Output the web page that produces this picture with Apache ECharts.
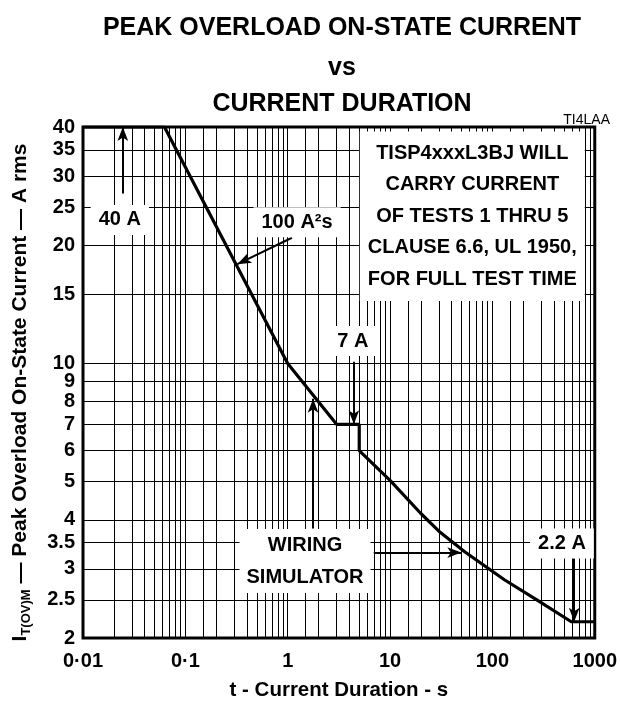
<!DOCTYPE html>
<html><head><meta charset="utf-8">
<script src="https://cdn.jsdelivr.net/npm/echarts@6/dist/echarts.min.js"></script>
<style>html,body{margin:0;padding:0;background:#fff}#c{width:620px;height:707px}</style>
</head><body><div id="c"></div>
<script>
// ---- data ----
const durations = [0.01, 0.0625, 1, 3, 5, 5, 10, 20, 30, 54, 132, 279, 590, 1000];
const currents  = [40, 40, 10, 7, 7, 6, 5.04, 4.15, 3.74, 3.31, 2.81, 2.49, 2.2, 2.2];

const xTickValues = [0.01, 0.1, 1, 10, 100, 1000];
const xTickLabels = ['0·01', '0·1', '1', '10', '100', '1000'];
const yTickValues = [2, 2.5, 3, 3.5, 4, 5, 6, 7, 8, 9, 10, 15, 20, 25, 30, 35, 40];
const yTickLabels = ['2', '2.5', '3', '3.5', '4', '5', '6', '7', '8', '9', '10', '15', '20', '25', '30', '35', '40'];
const xDecades = [0.01, 0.1, 1, 10, 100];
const xMultipliers = [1, 1.5, 2, 3, 4, 5, 6, 7, 8, 9];

const noteTexts = ['40 A', '100 A²s', '7 A', 'WIRING\nSIMULATOR', '2.2 A',
  'TISP4xxxL3BJ WILL\nCARRY CURRENT\nOF TESTS 1 THRU 5\nCLAUSE 6.6, UL 1950,\nFOR FULL TEST TIME'];
const noteT = [0.0229, 1.234, 4.33, 1.476, 478, 63.6];
const noteI = [23.2, 22.9, 11.4, 3.14, 3.48, 23.7];

const arrowFromT = [0.0245, 1.10, 4.43, 1.77, 6.93, 630];
const arrowFromI = [27.1, 20.9, 10.1, 3.8, 3.3, 3.19];
const arrowToT   = [0.0245, 0.322, 4.43, 1.77, 49.7, 630];
const arrowToI   = [40, 17.9, 7, 8.13, 3.3, 2.2];

// ---- build chart ----
const FONT = '"Liberation Sans", Arial, Helvetica, sans-serif';
const chart = echarts.init(document.getElementById('c'), null, {renderer: 'canvas'});

const xGrid = [];
xDecades.forEach(d => xMultipliers.forEach(m => xGrid.push(+(d * m).toPrecision(6))));
xGrid.push(1000);

const gridLines = [];
xGrid.forEach(v => gridLines.push({xAxis: v, label: {show: false}}));
yTickValues.forEach((v, i) => gridLines.push({
  yAxis: v,
  label: {show: true, position: 'start', distance: 8, formatter: yTickLabels[i],
          color: '#000', fontSize: 20, fontWeight: 'bold', fontFamily: FONT}
}));

const notes = noteTexts.map((t, i) => ({
  name: t, coord: [noteT[i], noteI[i]],
  label: i === 5 ? {padding: [6, 8], lineHeight: 31.5} : (i === 3 ? {padding: [0, 7], lineHeight: 32} : {})
}));

const arrows = arrowFromT.map((t, i) => [
  {coord: [t, arrowFromI[i]]},
  {coord: [arrowToT[i], arrowToI[i]]}
]);

const titleStyle = {fontSize: 25, fontWeight: 'bold', color: '#000', fontFamily: FONT};

chart.setOption({
  animation: false,
  backgroundColor: '#fff',
  title: [
    {text: 'PEAK OVERLOAD ON-STATE CURRENT', left: 342, top: 16, textAlign: 'center', padding: 0, textStyle: titleStyle},
    {text: 'vs', left: 342, top: 56, textAlign: 'center', padding: 0, textStyle: titleStyle},
    {text: 'CURRENT DURATION', left: 342, top: 92, textAlign: 'center', padding: 0, textStyle: titleStyle},
    {text: 'TI4LAA', right: 10, top: 113, padding: 0,
     textStyle: {fontSize: 14, fontWeight: 'normal', color: '#000', fontFamily: FONT}}
  ],
  grid: {left: 83, right: 23, top: 127, bottom: 69, show: true, borderColor: '#000', borderWidth: 3,
         backgroundColor: 'transparent'},
  xAxis: {
    type: 'log', logBase: 10, min: 0.01, max: 1000,
    name: 't - Current Duration - s', nameLocation: 'middle', nameGap: 42,
    nameTextStyle: {fontSize: 20.5, fontWeight: 'bold', color: '#000', fontFamily: FONT},
    axisLine: {show: false}, axisTick: {show: false}, splitLine: {show: false}, minorTick: {show: false},
    axisLabel: {
      margin: 13, fontSize: 20, fontWeight: 'bold', color: '#000', fontFamily: FONT,
      formatter: v => { const k = xTickValues.findIndex(x => Math.abs(Math.log10(x) - Math.log10(v)) < 1e-6); return k >= 0 ? xTickLabels[k] : ''; }
    }
  },
  yAxis: {
    type: 'log', logBase: 10, min: 2, max: 40,
    name: '{big|I}{sub|T(OV)M}{big| — Peak Overload On-State Current — A rms}',
    nameLocation: 'middle', nameGap: 50, nameRotate: 90,
    nameTextStyle: {
      color: '#000', fontFamily: FONT, fontWeight: 'bold', fontSize: 21,
      padding: [0, 20, 0, 0],
      rich: {
        big: {fontSize: 21, fontWeight: 'bold', color: '#000', fontFamily: FONT, lineHeight: 26, verticalAlign: 'middle'},
        sub: {fontSize: 13, fontWeight: 'bold', color: '#000', fontFamily: FONT, lineHeight: 13, verticalAlign: 'bottom'}
      }
    },
    axisLine: {show: false}, axisTick: {show: false}, splitLine: {show: false}, axisLabel: {show: false}
  },
  series: [
    {
      name: 'grid', type: 'line', data: [], z: 1, silent: true,
      markLine: {silent: true, symbol: 'none', animation: false,
        lineStyle: {color: '#000', width: 1, type: 'solid'},
        emphasis: {disabled: true}, data: gridLines}
    },
    {
      name: 'arrows', type: 'line', data: [], z: 2, silent: true,
      markLine: {silent: true, symbol: ['none', 'arrow'], symbolSize: [8, 14], animation: false,
        lineStyle: {color: '#000', width: 2, type: 'solid'}, itemStyle: {color: '#000'},
        label: {show: false}, emphasis: {disabled: true}, data: arrows}
    },
    {
      name: 'notes', type: 'line', data: [], z: 3, silent: true,
      markPoint: {silent: true, symbol: 'rect', symbolSize: 1, animation: false,
        itemStyle: {color: 'rgba(0,0,0,0)'},
        label: {show: true, position: 'inside', formatter: '{b}', color: '#000', fontSize: 20,
                fontWeight: 'bold', fontFamily: FONT, backgroundColor: '#fff', padding: [5, 8], align: 'center'},
        emphasis: {disabled: true}, data: notes}
    },
    {
      name: 'I_T(OV)M', type: 'line', z: 4, symbol: 'none', silent: true,
      lineStyle: {color: '#000', width: 3.2}, itemStyle: {color: '#000'},
      data: durations.map((t, i) => [t, currents[i]])
    }
  ]
});
</script></body></html>
